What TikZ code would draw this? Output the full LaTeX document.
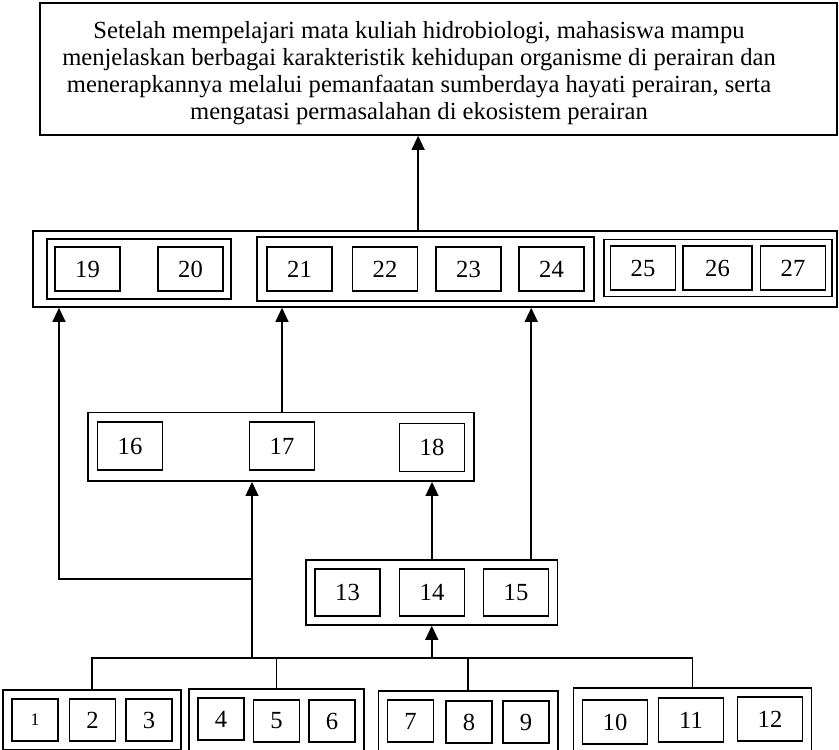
\documentclass[tikz,border=0pt]{standalone}
\usepackage{fontspec}
\setmainfont{Liberation Serif}
\usetikzlibrary{arrows.meta, positioning, fit}
\tikzset{
  numbox/.style={rectangle, draw=black, minimum width=1.95cm,
    minimum height=1.32cm, inner sep=0pt, line width=1.1pt,
    font=\fontsize{21}{23}\selectfont},
  smallbox/.style={numbox, minimum width=1.38cm, minimum height=1.26cm},
  grpbox/.style={rectangle, draw=black, inner sep=0.25cm, line width=1.3pt},
  goalbox/.style={rectangle, draw=black, minimum width=23.91cm,
    minimum height=3.96cm, line width=1.3pt},
  goaltext/.style={align=center, inner sep=0pt,
    font=\fontsize{21}{23.2}\selectfont},
  arrow/.style={-{Triangle[width=11pt,length=12pt]}, line width=1.4pt},
  line/.style={line width=1.4pt}
}
\begin{document}
\begin{tikzpicture}[x=0.03cm, y=-0.03cm]
  \useasboundingbox (0,0) rectangle (839,749);
  % Goal
  \node[goalbox] (goal) at (438.5,69) {};
  \node[goaltext] (goaltxt) at (419,73) {Setelah mempelajari mata kuliah hidrobiologi, mahasiswa mampu\\
    menjelaskan berbagai karakteristik kehidupan organisme di perairan dan\\
    menerapkannya melalui pemanfaatan sumberdaya hayati perairan, serta\\
    mengatasi permasalahan di ekosistem perairan};
  % Row 19 - 27
  \node[numbox] (b19) at (87.5,269) {19};
  \node[numbox] (b20) at (190.5,269) {20};
  \node[numbox] (b21) at (299.5,269) {21};
  \node[numbox] (b22) at (385,269) {22};
  \node[numbox] (b23) at (468.5,269) {23};
  \node[numbox] (b24) at (551.5,269) {24};
  \node[numbox] (b25) at (643,268) {25};
  \node[numbox, minimum width=2.07cm] (b26) at (717.5,268) {26};
  \node[numbox] (b27) at (793,268) {27};
  \node[grpbox, inner sep=0.22cm, fit=(b19)(b20)] (g5) {};
  \node[grpbox, inner sep=0.28cm, fit=(b21)(b24)] (g6) {};
  \node[grpbox, inner sep=0.17cm, fit=(b25)(b27)] (g7) {};
  \node[rectangle, draw=black, line width=1.3pt, minimum width=24.12cm,
    minimum height=2.28cm] (mid) at (435,269) {};
  % Row 16 - 18
  \node[numbox, minimum height=1.44cm] (b16) at (130,446) {16};
  \node[numbox, minimum height=1.44cm] (b17) at (282,446) {17};
  \node[numbox, minimum height=1.44cm] (b18) at (432,447.5) {18};
  \node[grpbox, inner sep=0.27cm, fit=(b16)(b18)] (g2) {};
  % Row 13 - 15
  \node[numbox, minimum height=1.41cm] (b13) at (347.5,592.5) {13};
  \node[numbox, minimum height=1.41cm] (b14) at (432,592.5) {14};
  \node[numbox, minimum height=1.41cm] (b15) at (516,592.5) {15};
  \node[grpbox, fit=(b13)(b15)] (g3) {};
  % Row 1 - 12
  \node[smallbox, font=\fontsize{15}{17}\selectfont] (b1) at (35,720) {1};
  \node[smallbox] (b2) at (92.5,720) {2};
  \node[smallbox] (b3) at (149,720) {3};
  \node[smallbox] (b4) at (221,719) {4};
  \node[smallbox] (b5) at (276.5,721) {5};
  \node[smallbox] (b6) at (332,721) {6};
  \node[smallbox] (b7) at (410.5,721) {7};
  \node[smallbox] (b8) at (469,722) {8};
  \node[smallbox] (b9) at (526,722) {9};
  \node[numbox] (b10) at (615,722) {10};
  \node[numbox] (b11) at (691,720) {11};
  \node[numbox] (b12) at (770,719) {12};
  \node[grpbox, fit=(b1)(b3)] (ga) {};
  \node[grpbox, fit=(b4)(b6)] (gb) {};
  \node[grpbox, fit=(b7)(b9)] (gc) {};
  \node[grpbox, fit=(b10)(b12)] (gd) {};
  % Connectors
  \coordinate (bus) at (252,658);
  \coordinate (lft) at (59,579);
  \coordinate (c15) at ([xshift=-0.81cm]g3.north east);
  \draw[line] (ga.north) -- (ga.north |- bus) -- (gd.north |- bus) -- (gd.north);
  \draw[line] (gb.north) -- (gb.north |- bus);
  \draw[line] (gc.north) -- (gc.north |- bus);
  \draw[arrow] (bus) -- (bus |- g2.south);
  \draw[arrow] (bus -| g3.south) -- (g3.south);
  \draw[arrow] (bus |- lft) -- (lft) -- (lft |- mid.south);
  \draw[arrow] (g3.north -| b14) -- (g2.south -| b14);
  \draw[arrow] (c15) -- (c15 |- mid.south);
  \draw[arrow] (g2.north -| b17) -- (mid.south -| b17);
  \draw[arrow] (b22.east |- mid.north) -- (b22.east |- goal.south);
\end{tikzpicture}
\end{document}
